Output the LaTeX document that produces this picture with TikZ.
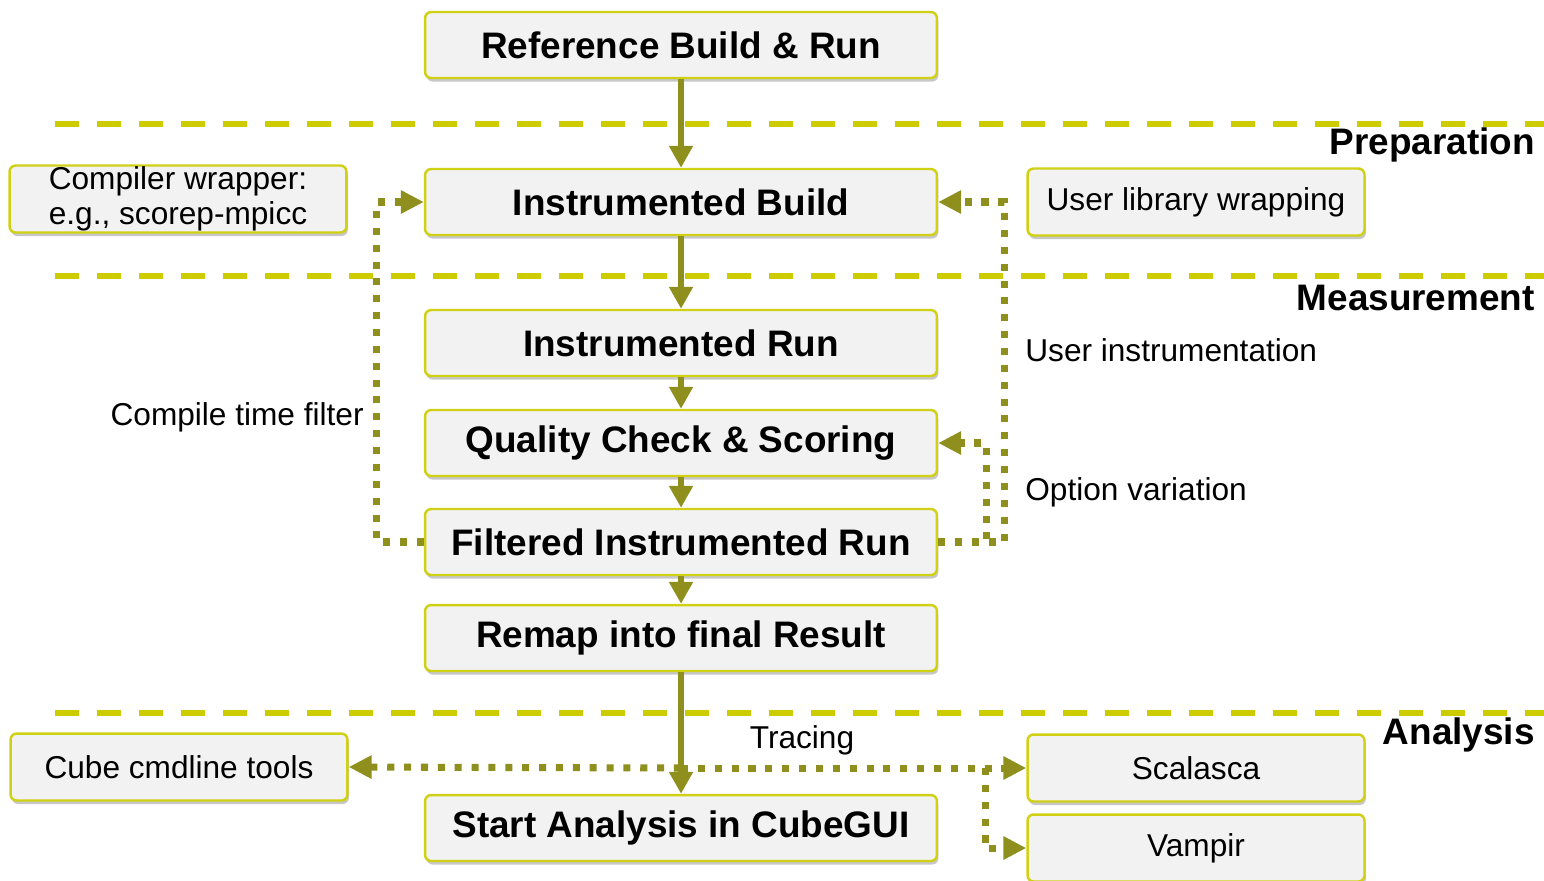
\documentclass[tikz,border=0pt]{standalone}
\usepackage{fontspec}
\setmainfont{Liberation Sans}
\usetikzlibrary{arrows.meta,shadows}

\definecolor{boxedge}{RGB}{208,208,20}
\definecolor{boxfill}{RGB}{242,242,242}
\definecolor{sepline}{RGB}{204,204,0}
\definecolor{flow}{RGB}{143,143,30}

\tikzset{
  basebox/.style={draw=boxedge, line width=1.4pt, fill=boxfill, rounded corners=3.5pt,
    inner sep=0pt, text=black,
    drop shadow={shadow xshift=0.8pt, shadow yshift=-2pt, opacity=0.22, fill=black}},
  mainbox/.style={basebox, minimum width=10.24cm, minimum height=1.32cm,
    font=\fontsize{21}{25}\selectfont\bfseries},
  sidebox/.style={basebox, minimum width=6.74cm, minimum height=1.34cm,
    font=\fontsize{18}{20}\selectfont, align=center},
  phase/.style={font=\fontsize{21}{25}\selectfont\bfseries, anchor=east, inner sep=0pt},
  note/.style={font=\fontsize{18}{21}\selectfont, inner sep=0pt},
  sepdash/.style={draw=sepline, line width=3.4pt, dash pattern=on 13.7pt off 10.2pt},
  flowarrow/.style={draw=flow, line width=3.6pt,
    -{Triangle[length=12.5pt, width=13pt]}, fill=flow},
  dotarrow/.style={draw=flow, line width=4pt, dash pattern=on 4pt off 5.6pt,
    -{Triangle[length=13pt, width=12.5pt]}},
  dotline/.style={draw=flow, line width=4pt, dash pattern=on 4pt off 5.6pt},
}

\begin{document}
\begin{tikzpicture}[x=0.02cm, y=-0.02cm]
  \useasboundingbox (0,0) rectangle (1544,880);

  % phase separators
  \draw[sepdash] (55,124) -- (1544,124);
  \draw[sepdash] (55,276) -- (1544,276);
  \draw[sepdash] (55,713) -- (1544,713);

  % phase names
  \node[phase] (prep) at (1535,145) {Preparation};
  \node[phase] (meas) at (1535,298) {Measurement};
  \node[phase] (anal) at (1535,735) {Analysis};

  % main workflow
  \node[mainbox] (ref)   at (681,45)  {Reference Build \& Run};
  \node[mainbox] (ib)    at (681,202) {Instrumented Build};
  \node[mainbox] (ir)    at (681,343) {Instrumented Run};
  \node[mainbox] (qc)    at (681,443) {Quality Check \& Scoring};
  \node[mainbox] (fr)    at (681,542) {Filtered Instrumented Run};
  \node[mainbox] (remap) at (681,638) {Remap into final Result};
  \node[mainbox] (gui)   at (681,828) {Start Analysis in CubeGUI};

  % side boxes
  \node[sidebox] (cw)   at (178,199) {Compiler wrapper:\\e.g., scorep-mpicc};
  \node[sidebox] (ulw)  at (1196,202) {User library wrapping};
  \node[sidebox] (cube) at (179,767) {Cube cmdline tools};
  \node[sidebox] (scal) at (1196,768) {Scalasca};
  \node[sidebox] (vamp) at (1196,848) {Vampir};

  % feedback loops
  \draw[dotarrow] (fr.west) -- ++(-47,0) |- (ib.west);
  \draw[dotarrow] (fr.east) -- ++(66,0) |- (ib.east);
  \draw[dotarrow] (fr.east) -- ++(48,0) |- (qc.east);

  % analysis branches
  \coordinate (tb) at (remap.south |- scal.west);
  \coordinate (br) at (985,768);
  \draw[dotarrow] (tb) -- (cube.east);
  \draw[dotarrow] (tb) -- (scal.west);
  \draw[dotline] (tb) -- (br);
  \draw[dotarrow] (br) |- (vamp.west);

  % main flow arrows
  \draw[flowarrow] (ref.south) -- (ib.north);
  \draw[flowarrow] (ib.south) -- (ir.north);
  \draw[flowarrow] (ir.south) -- (qc.north);
  \draw[flowarrow] (qc.south) -- (fr.north);
  \draw[flowarrow] (fr.south) -- (remap.north);
  \draw[flowarrow] (remap.south) -- (gui.north);

  % annotations
  \node[note, anchor=east] (ctf) at (364,417) {Compile time filter};
  \node[note, anchor=west] (ui)  at (1025,350) {User instrumentation};
  \node[note, anchor=west] (ov)  at (1025,492) {Option variation};
  \node[note] (tr) at (802,740) {Tracing};
\end{tikzpicture}
\end{document}
